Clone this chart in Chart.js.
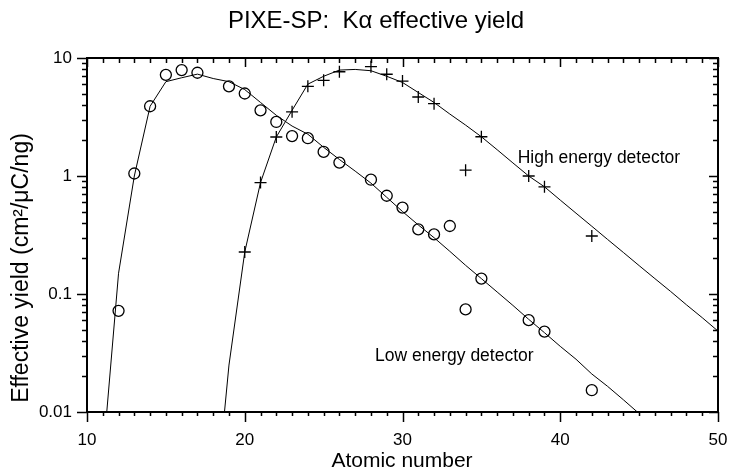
<!DOCTYPE html>
<html>
<head>
<meta charset="utf-8">
<script src="https://cdn.jsdelivr.net/npm/chart.js@4.4.0/dist/chart.umd.min.js"></script>
<style>
body{margin:0;background:#fff;}
#wrap{width:730px;height:472px;}
</style>
</head>
<body>
<div id="wrap"><canvas id="pixe"></canvas></div>
<script>
// measured points
let lowZ = [12,13,14,15,16,17,19,20,21,22,23,24,25,26,28,29,30,31,32,33,34,35,38,39,42]
let lowY = [0.072,1.05,3.9,7.2,7.9,7.5,5.75,5.0,3.6,2.87,2.18,2.09,1.6,1.3,0.93,0.68,0.54,0.353,0.32,0.377,0.074,0.135,0.06,0.048,0.0153]
let highZ = [20,21,22,23,24,25,26,28,29,30,31,32,34,35,38,39,42]
let highY = [0.227,0.88,2.14,3.5,5.75,6.47,7.65,8.44,7.28,6.38,4.67,4.1,1.12,2.15,1.0,0.81,0.31]
// calculated curves
let lowCurveZ = [11,12,13,14,15,16,17,18,19,20,21,22,23,24,25,26,27,28,29,30,31,32,33,34,35,36,37,38,39,40,41,42,43,44,45]
let lowCurveY = [0.004,0.15,1.0,3.9,6.3,6.8,7.3,6.7,6.3,5.4,4.2,3.27,2.65,2.26,1.75,1.38,1.1,0.87,0.66,0.5,0.385,0.3,0.23,0.175,0.135,0.104,0.08,0.061,0.047,0.036,0.028,0.021,0.0165,0.0127,0.0097]
let highCurveZ = [18,19,20,21,22,23,24,25,26,27,28,29,30,31,32,33,34,35,36,37,38,39,40,41,42,43,44,45,46,47,48,49,50]
let highCurveY = [0.001,0.025,0.227,0.88,2.14,3.6,6.0,7.0,7.9,8.0,7.8,7.0,6.2,5.1,4.2,3.35,2.7,2.15,1.67,1.29,1.0,0.81,0.625,0.484,0.375,0.29,0.225,0.174,0.135,0.105,0.081,0.063,0.0485]
let yTicks = [0.01,0.1,1,10]
let xTicks = [10,20,30,40,50]

let font = 'Liberation Sans, Arial, Helvetica, sans-serif'

let pts=(xs,ys)=>xs.map((v,i)=>({x:v,y:ys[i]}))

// frame, ticks, titles, labels
let decor = {
	id:'decor',
	afterDraw:c=>{
		let ctx = c.ctx
		let a = c.chartArea
		let sx = c.scales.x, sy = c.scales.y
		ctx.save()
		ctx.strokeStyle = '#000'
		ctx.lineWidth = 1.5
		ctx.beginPath()
		for(let z=10;z<=50;z++){
			let px = Math.round(sx.getPixelForValue(z))+0.5
			let major = z%10===0
			ctx.moveTo(px,a.bottom); ctx.lineTo(px,a.bottom+(major?10:4))
			ctx.moveTo(px,a.top); ctx.lineTo(px,a.top+(major?9:5))
		}
		for(let d=0.01;d<=10;d*=10){
			for(let m=1;m<=9;m++){
				let v = d*m
				if(v>10.001) break
				let py = Math.round(sy.getPixelForValue(v))+0.5
				let major = m===1
				ctx.moveTo(a.left,py); ctx.lineTo(a.left-(major?10:5),py)
				ctx.moveTo(a.right,py); ctx.lineTo(a.right-(major?9:5),py)
			}
		}
		ctx.stroke()
		ctx.lineWidth = 2
		ctx.strokeRect(a.left,a.top,a.right-a.left,a.bottom-a.top)

		ctx.fillStyle = '#000'
		ctx.textBaseline = 'middle'
		ctx.textAlign = 'center'
		ctx.font = '24px '+font
		ctx.fillText('PIXE-SP:  Kα effective yield',376,21)
		ctx.font = '21px '+font
		ctx.fillText('Atomic number',402,461)
		ctx.save()
		ctx.translate(22,268)
		ctx.rotate(-Math.PI/2)
		ctx.font = '23px '+font
		ctx.fillText('Effective yield (cm²/μC/ng)',0,0)
		ctx.restore()
		ctx.textAlign = 'left'
		ctx.font = '17.5px '+font
		ctx.fillText('High energy detector',sx.getPixelForValue(37.3),sy.getPixelForValue(1.42))
		ctx.fillText('Low energy detector',sx.getPixelForValue(28.26),sy.getPixelForValue(0.0298))
		ctx.restore()
	}
}

new Chart(document.getElementById('pixe'),{
	type:'scatter',
	data:{
		datasets:[
			{data:pts(lowCurveZ,lowCurveY),showLine:true,borderColor:'#000',borderWidth:1,pointRadius:0,tension:0},
			{data:pts(highCurveZ,highCurveY),showLine:true,borderColor:'#000',borderWidth:1,pointRadius:0,tension:0},
			{data:pts(lowZ,lowY),pointStyle:'circle',pointRadius:5.5,borderColor:'#000',borderWidth:1.3,backgroundColor:'rgba(0,0,0,0)'},
			{data:pts(highZ,highY),pointStyle:'cross',pointRadius:6,borderColor:'#000',borderWidth:1.3}
		]
	},
	options:{
		responsive:true,
		maintainAspectRatio:false,
		animation:false,
		layout:{padding:{top:58,right:12,left:0,bottom:0}},
		plugins:{legend:{display:false},tooltip:{enabled:false},title:{display:false}},
		scales:{
			x:{
				type:'linear',min:10,max:50,
				afterFit:s=>{s.height=60;s.paddingLeft=0;s.paddingRight=0},
				afterBuildTicks:s=>{s.ticks=xTicks.map(v=>({value:v}))},
				grid:{display:false,drawTicks:false},
				border:{display:false},
				ticks:{color:'#000',padding:18,font:{family:font,size:17},maxRotation:0}
			},
			y:{
				type:'logarithmic',min:0.01,max:10,
				afterFit:s=>{s.width=87;s.paddingTop=0;s.paddingBottom=0},
				afterBuildTicks:s=>{s.ticks=yTicks.map(v=>({value:v}))},
				grid:{display:false,drawTicks:false},
				border:{display:false},
				ticks:{color:'#000',padding:15,font:{family:font,size:17},callback:v=>String(v)}
			}
		}
	},
	plugins:[decor]
})
</script>
</body>
</html>
